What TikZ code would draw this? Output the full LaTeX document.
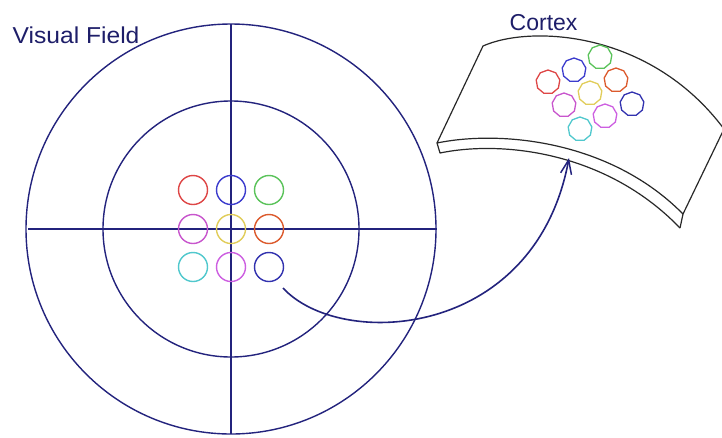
\documentclass[tikz,border=0pt]{standalone}
\usepackage{fontspec}
\setmainfont{Liberation Sans}
\usetikzlibrary{arrows.meta,shapes.geometric}
\definecolor{navy}{RGB}{35,35,125}
\definecolor{txtnavy}{RGB}{30,30,105}
\definecolor{cred}{RGB}{222,70,70}
\definecolor{cblue}{RGB}{60,60,205}
\definecolor{cgreen}{RGB}{90,195,90}
\definecolor{cmag}{RGB}{200,85,205}
\definecolor{cyel}{RGB}{225,205,90}
\definecolor{corange}{RGB}{220,90,45}
\definecolor{ccyan}{RGB}{80,200,205}
\definecolor{cviol}{RGB}{205,95,225}
\definecolor{cdblue}{RGB}{50,50,175}
\definecolor{slab}{RGB}{40,40,40}
\tikzset{
  axis/.style={draw=navy,line width=1.4pt},
  rf/.style={circle,draw=#1,line width=1.4pt,minimum size=29pt,inner sep=0pt},
  crf/.style={regular polygon,regular polygon sides=9,draw=#1,line width=1.3pt,minimum size=24pt,inner sep=0pt},
  slabline/.style={draw=slab,line width=1.2pt,line join=round},
  lbl/.style={text=txtnavy,font=\fontsize{23}{26}\selectfont,inner sep=0pt},
  maparrow/.style={draw=navy,line width=1.6pt,-{Straight Barb[length=14pt,width=11pt,line width=1.5pt]}}
}
\begin{document}
\begin{tikzpicture}[x=1pt,y=-1pt]
\useasboundingbox (0,0) rectangle (722,437);
\fill[white] (0,0) rectangle (722,437);
% visual field
\coordinate (c) at (231,229);
\draw[axis] (c) circle[radius=205];
\draw[axis] (c) circle[radius=128];
\coordinate (hl) at (28,229);
\coordinate (hr) at (437,229);
\coordinate (vt) at (231,24);
\coordinate (vb) at (231,434);
\draw[axis] (hl) -- (hr);
\draw[axis] (vt) -- (vb);
\node[rf=cred]    (r11) at (193,190) {};
\node[rf=cblue]   (r12) at (231,190) {};
\node[rf=cgreen]  (r13) at (269,190) {};
\node[rf=cmag]    (r21) at (193,229) {};
\node[rf=cyel]    (r22) at (231,229) {};
\node[rf=corange] (r23) at (269,229) {};
\node[rf=ccyan]   (r31) at (193,267) {};
\node[rf=cviol]   (r32) at (231,267) {};
\node[rf=cdblue]  (r33) at (269,267) {};
\node[lbl,anchor=base west] (vf) at (12.5,43.5) {\scalebox{1.07}[1]{Visual Field}};
% cortex slab
\coordinate (tl) at (483,46);
\coordinate (tr) at (724,129);
\coordinate (fl) at (437,143);
\coordinate (fr) at (683,214);
\coordinate (bl) at (440,153);
\coordinate (br) at (680,228);
\draw[slabline] (fl) -- (tl) .. controls (530,25) and (650,30) .. (tr) -- (fr);
\draw[slabline] (fl) .. controls (500,130) and (610,140) .. (fr) -- (br);
\draw[slabline] (fl) -- (bl) .. controls (503,140) and (607,152) .. (br);
\node[crf=cred]    (k1) at (548,82) {};
\node[crf=cblue]   (k2) at (574,70) {};
\node[crf=cgreen]  (k3) at (600,57) {};
\node[crf=cmag]    (k4) at (564,105) {};
\node[crf=cyel]    (k5) at (590,93) {};
\node[crf=corange] (k6) at (616,80) {};
\node[crf=ccyan]   (k7) at (580,129) {};
\node[crf=cviol]   (k8) at (605,116) {};
\node[crf=cdblue]  (k9) at (632,104) {};
\node[lbl,anchor=base west] (cx) at (509.5,30) {Cortex};
% mapping arrow
\coordinate (as) at (283,288);
\coordinate (ae) at (569,158);
\draw[maparrow] (as) .. controls (340,350) and (535,340) .. (ae);
\end{tikzpicture}
\end{document}
